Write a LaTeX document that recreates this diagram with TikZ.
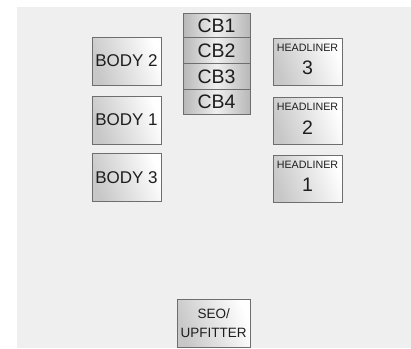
\documentclass[tikz,border=0pt]{standalone}
\usepackage{fontspec}
\setmainfont{Liberation Sans}
\definecolor{panel}{HTML}{EFEFEF}
\definecolor{edge}{HTML}{6E6E6E}
\definecolor{ink}{HTML}{1E1E1E}
\begin{document}
\begin{tikzpicture}[x=1pt,y=-1pt,
  fusebox/.style={draw=edge,line width=1pt,shading=axis,left color=black!22,right color=white,shading angle=110,inner sep=0pt},
  cbcell/.style={draw=edge,line width=1pt,left color=black!28,right color=black!28,middle color=black!6,inner sep=0pt},
  bigtxt/.style={text=ink,font=\fontsize{17}{18}\selectfont},
  cbtxt/.style={text=ink,font=\fontsize{19.5}{20}\selectfont},
  hltxt/.style={text=ink,font=\fontsize{10.7}{12}\selectfont},
  seotxt/.style={text=ink,font=\fontsize{13.5}{19}\selectfont}]
\useasboundingbox (0,0) rectangle (411,348);
\fill[white] (0,0) rectangle (411,348);
\fill[panel] (17,7) rectangle (411,348);
% BODY boxes
\node[fusebox,minimum width=69pt,minimum height=48pt] (body2) at (126.5,61) {};
\node[bigtxt] at (body2.center) {BODY 2};
\node[fusebox,minimum width=69pt,minimum height=48pt] (body1) at (126.5,120) {};
\node[bigtxt] at (body1.center) {BODY 1};
\node[fusebox,minimum width=69pt,minimum height=48pt] (body3) at (126.5,177.5) {};
\node[bigtxt] at (body3.center) {BODY 3};
% CB stack
\node[cbcell,minimum width=67pt,minimum height=24.5pt] (cb1) at (216.5,25.5) {};
\node[cbtxt] at (cb1.center) {CB1};
\node[cbcell,minimum width=67pt,minimum height=25.5pt] (cb2) at (216.5,50.5) {};
\node[cbtxt] at (cb2.center) {CB2};
\node[cbcell,minimum width=67pt,minimum height=26pt] (cb3) at (216.5,76.3) {};
\node[cbtxt] at (cb3.center) {CB3};
\node[cbcell,minimum width=67pt,minimum height=25.5pt] (cb4) at (216.5,102) {};
\node[cbtxt] at (cb4.center) {CB4};
% HEADLINER boxes
\node[fusebox,minimum width=69pt,minimum height=47pt] (h3) at (307.5,61.5) {};
\node[hltxt] at ([yshift=-10pt]h3.north) {HEADLINER};
\node[cbtxt] at ([yshift=-6.5pt]h3.center) {3};
\node[fusebox,minimum width=69pt,minimum height=47pt] (h2) at (307.5,120.8) {};
\node[hltxt] at ([yshift=-10pt]h2.north) {HEADLINER};
\node[cbtxt] at ([yshift=-6.5pt]h2.center) {2};
\node[fusebox,minimum width=69pt,minimum height=47pt] (h1) at (307.5,178.6) {};
\node[hltxt] at ([yshift=-10pt]h1.north) {HEADLINER};
\node[cbtxt] at ([yshift=-6.5pt]h1.center) {1};
% SEO/UPFITTER
\node[fusebox,minimum width=73pt,minimum height=48pt] (seo) at (213.7,323) {};
\node[seotxt,align=center] at (seo.center) {SEO/\\UPFITTER};
\end{tikzpicture}
\end{document}
